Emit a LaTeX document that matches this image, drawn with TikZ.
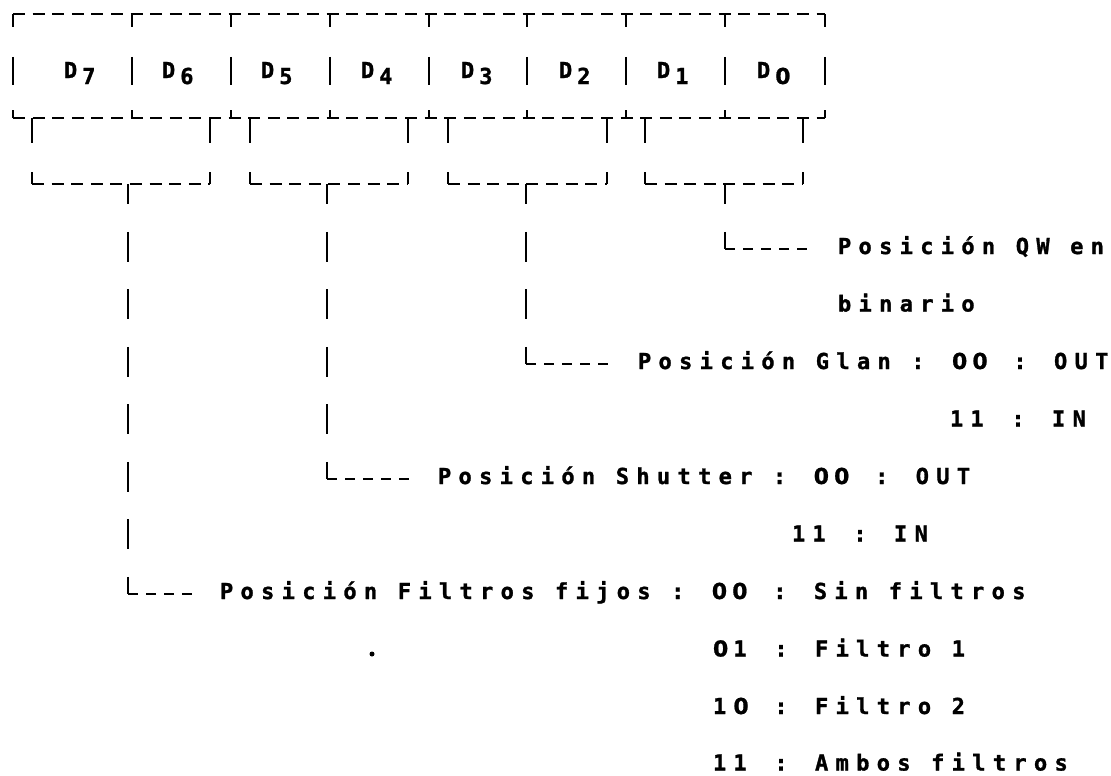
\documentclass[tikz,border=0pt]{standalone}
\usepackage{fontspec}
\newfontfamily\dmfont[LetterSpace=33.3,FakeBold=1.3]{DejaVu Sans Mono Bold}
\newfontfamily\zfont[FakeBold=0.8]{DejaVu Sans Bold}
\newcommand\dg[1]{\makebox[20.4pt][l]{#1}}
\newcommand\zz{\dg{\zfont 0}}
\newcommand\on{\dg{1}}
\begin{document}
\begin{tikzpicture}[x=1pt,y=-1pt,
  ln/.style={line width=2.8pt},
  hd/.style={line width=2.8pt, dash pattern=on 12pt off 7.6pt},
  ld/.style={line width=2.8pt, dash pattern=on 10pt off 8pt, shorten >=28pt},
  vd/.style={line width=2.8pt, dash pattern=on 30pt off 27.5pt, dash phase=9.7pt},
  txt/.style={font=\dmfont\fontsize{22}{26}\selectfont, anchor=base west, inner sep=0pt, outer sep=0pt},
  dot/.style={circle, fill, inner sep=0pt, minimum size=5pt}
]
\useasboundingbox (0,0) rectangle (1111,776);

% register box
\coordinate (tl) at (13,14);
\coordinate (tr) at (825,14);
\coordinate (bl) at (13,118);
\coordinate (br) at (825,118);
\draw[hd] (tl) -- (tr);
\draw[hd] (bl) -- (br);
\foreach \x in {13,132,231,330,429,527,626,725,825}{
  \draw[ln] (\x,14) -- (\x,27);
  \draw[ln] (\x,57) -- (\x,85);
  \draw[ln] (\x,110) -- (\x,118);
}
\foreach \x in {32,210,250,408,448,607,645,803}
  \draw[ln] (\x,118) -- (\x,143);

% bit labels
\foreach \n/\x in {7/64,6/162,5/261,4/361,3/461,2/559,1/657}
  \node[txt] (d\n) at (\x,78) {D\hspace{5pt}\raisebox{-6pt}{\n}};
\node[txt] (d0) at (757,78) {D\hspace{5pt}\raisebox{-6pt}{\zfont 0}};

% pair brackets
\foreach \l/\r/\m/\c in {32/210/128/A,250/408/327/B,448/607/526/C,645/803/725/D}{
  \draw[ln] (\l,172) -- (\l,184);
  \draw[ln] (\r,172) -- (\r,184);
  \draw[hd] (\l,184) -- (\r,184);
  \coordinate (m\c) at (\m,184);
}

% text rows
\node[txt] (tQW)  at (838,254)   {Posición QW en};
\node[txt] (tbin) at (838,311.5) {binario};
\node[txt] (tGl)  at (638,369)   {Posición Glan : \zz\zz{} : OUT};
\node[txt] (tGi)  at (950,426.5) {\on\on{} : IN};
\node[txt] (tSh)  at (438,484)   {Posición Shutter : \zz\zz{} : OUT};
\node[txt] (tSi)  at (792,541.5) {\on\on{} : IN};
\node[txt] (tF)   at (220,599)   {Posición Filtros fijos : \zz\zz{} : Sin filtros};
\node[txt] (tF1)  at (713,656.5) {\zz\on{} : Filtro 1};
\node[txt] (tF2)  at (713,714)   {\on\zz{} : Filtro 2};
\node[txt] (tF3)  at (713,770.5) {\on\on{} : Ambos filtros};
\node[dot] (pt) at (372,654) {};

% leader corners
\coordinate (cD) at (725,249);
\coordinate (cC) at (526,364);
\coordinate (cB) at (327,479);
\coordinate (cA) at (128,594);

% vertical leaders
\draw[vd] (mD) -- (cD);
\draw[vd] (mC) -- (cC);
\draw[vd] (mB) -- (cB);
\draw[vd] (mA) -- (cA);

% horizontal leaders
\draw[ld] (cD) -- (cD -| tQW.west);
\draw[ld] (cC) -- (cC -| tGl.west);
\draw[ld] (cB) -- (cB -| tSh.west);
\draw[ld] (cA) -- (cA -| tF.west);
\end{tikzpicture}
\end{document}
